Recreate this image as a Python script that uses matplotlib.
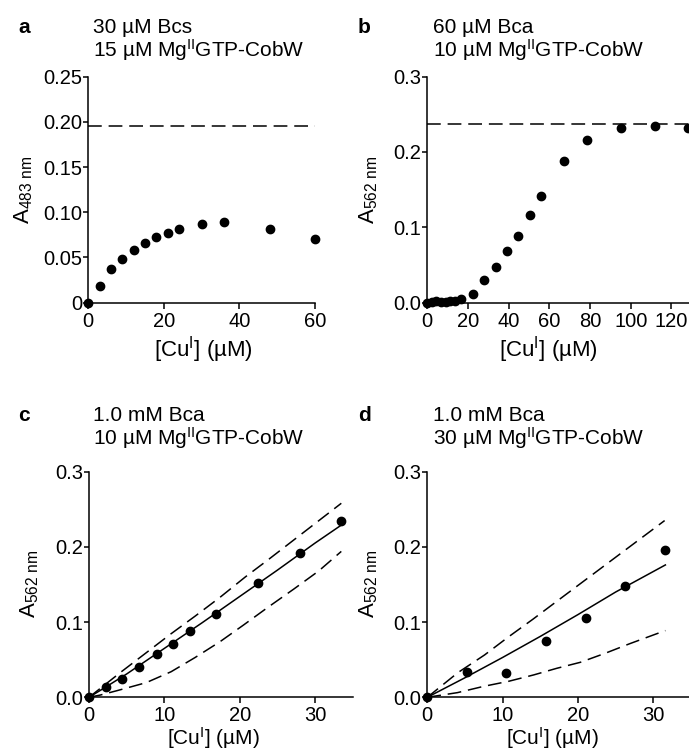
import numpy as np
import matplotlib
matplotlib.use("Agg")
import matplotlib.pyplot as plt

plt.rcParams['font.family'] = ['Liberation Sans', 'DejaVu Sans']
plt.rcParams['mathtext.fontset'] = 'custom'
plt.rcParams['mathtext.rm'] = 'Liberation Sans'
plt.rcParams['mathtext.it'] = 'Liberation Sans:italic'
plt.rcParams['mathtext.bf'] = 'Liberation Sans:bold'

W, H = 689, 753

# panel a: 30 uM Bcs, 15 uM CobW
a_cu = [0, 3, 6, 9, 12, 15, 18, 21, 24, 30, 36, 48, 60]
a_abs = [0.0, 0.0185, 0.0367, 0.048, 0.0585, 0.066, 0.072, 0.077, 0.081,
         0.087, 0.089, 0.081, 0.070]
a_limit = 0.195

# panel b: 60 uM Bca, 10 uM CobW
b_cu = [0, 2.2, 4.5, 6.7, 9.0, 11.2, 13.4, 16.8, 22.4, 28.0, 33.6, 39.2,
        44.8, 50.4, 56.0, 67.2, 78.4, 95.2, 112.0, 128.0]
b_abs = [0.0, 0.001, 0.002, 0.001, 0.001, 0.002, 0.002, 0.0044, 0.0116,
         0.030, 0.047, 0.069, 0.088, 0.116, 0.142, 0.188, 0.216, 0.232,
         0.234, 0.2325]
b_limit = 0.237

# panel c: 1.0 mM Bca, 10 uM CobW
c_cu = [0, 2.3, 4.4, 6.7, 9.0, 11.2, 13.4, 16.8, 22.4, 28.0, 33.5]
c_abs = [0.0, 0.0133, 0.0244, 0.040, 0.058, 0.071, 0.088, 0.111, 0.152,
         0.192, 0.234]
c_fit_x = [0, 2.2, 5, 10, 15, 20, 25, 30, 33.5]
c_fit = [0.0, 0.0135, 0.031, 0.065, 0.099, 0.134, 0.169, 0.205, 0.229]
c_up_x = [0, 4.3, 7.5, 10.8, 14.1, 17.4, 20.75, 23.8, 33.5]
c_up = [0.0, 0.034, 0.0585, 0.0838, 0.108, 0.133, 0.160, 0.183, 0.258]
c_lo_x = [0, 1.5, 3.75, 7.6, 10.9, 14.1, 17.4, 20.5, 23.8, 27.2, 30.5,
          33.5]
c_lo = [0.0, 0.003, 0.0089, 0.0195, 0.034, 0.053, 0.074, 0.096, 0.120,
        0.144, 0.168, 0.194]

# panel d: 1.0 mM Bca, 30 uM CobW
d_cu = [0, 5.3, 10.5, 15.8, 21.0, 26.2, 31.5]
d_abs = [0.0, 0.034, 0.032, 0.075, 0.105, 0.148, 0.196]
d_fit_x = [0, 5, 10, 15, 20, 25, 31.6]
d_fit = [0.0, 0.026, 0.053, 0.081, 0.110, 0.140, 0.176]
d_up_x = [0, 4.06, 7.6, 10.7, 14.0, 17.3, 20.5, 31.5]
d_up = [0.0, 0.0328, 0.0563, 0.0798, 0.1037, 0.1285, 0.1525, 0.235]
d_lo_x = [0, 4.0, 7.5, 10.8, 14.1, 17.2, 20.3, 23.6, 26.9, 30.5, 31.6]
d_lo = [0.0, 0.0062, 0.0146, 0.0213, 0.0297, 0.0386, 0.0465, 0.0585,
        0.0714, 0.0847, 0.0887]

fs_tick = 14.5
fs_title = 15
fs_lab = 16
dash = (9, 4.5)


def px_axes(left, top, right, bottom):
    return fig.add_axes([left / W, 1 - bottom / H, (right - left) / W,
                         (bottom - top) / H])


def style(ax, xlim, ylim, xticks, yticks, yfmt, xpad=2.5, xlab_fs=fs_lab):
    ax.set_xlim(*xlim)
    ax.set_ylim(*ylim)
    ax.spines['top'].set_visible(False)
    ax.spines['right'].set_visible(False)
    for s in ('left', 'bottom'):
        ax.spines[s].set_linewidth(1.1)
    ax.set_xticks(xticks)
    ax.set_yticks(yticks)
    ax.set_yticklabels(yfmt)
    ax.tick_params(axis='y', direction='out', length=3.5, width=1.1,
                   pad=1, labelsize=fs_tick)
    ax.tick_params(axis='x', direction='out', length=4, width=1.1,
                   pad=xpad, labelsize=fs_tick)
    ax.set_xlabel(r'[Cu$^{\mathrm{I}}$] (µM)', fontsize=xlab_fs)


def dots(ax, x, y):
    ax.plot(x, y, 'o', color='black', ms=6, clip_on=False, zorder=5)


def label_panel(letter, x, y, line1, line2):
    fig.text(x / W, 1 - y / H, letter, fontsize=fs_title, fontweight='bold',
             va='baseline')
    fig.text((x + 75) / W, 1 - y / H, line1, fontsize=fs_title,
             va='baseline')
    fig.text((x + 75) / W, 1 - (y + 24) / H, line2, fontsize=fs_title,
             va='baseline')


fig = plt.figure(figsize=(W / 100, H / 100), dpi=100)

# a
ax = px_axes(88.3, 76.7, 315, 302.5)
style(ax, (0, 60), (0, 0.25), [0, 20, 40, 60],
      [0, 0.05, 0.10, 0.15, 0.20, 0.25],
      ['0', '0.05', '0.10', '0.15', '0.20', '0.25'])
ax.plot([0, 60], [a_limit, a_limit], color='black', lw=1.1, dashes=dash)
dots(ax, a_cu, a_abs)
ax.set_ylabel(r'A$_{\mathrm{483\ nm}}$', fontsize=fs_lab)
ax.yaxis.set_label_coords(35 / W, 1 - 190 / H, transform=fig.transFigure)
ax.xaxis.set_label_coords(0.506, -0.14)

# b
ax = px_axes(427.3, 76.7, 702, 302.5)
style(ax, (0, 135), (0, 0.3), [0, 20, 40, 60, 80, 100, 120],
      [0, 0.1, 0.2, 0.3], ['0.0', '0.1', '0.2', '0.3'])
ax.plot([0, 135], [b_limit, b_limit], color='black', lw=1.1, dashes=dash)
dots(ax, b_cu, b_abs)
ax.set_ylabel(r'A$_{\mathrm{562\ nm}}$', fontsize=fs_lab)
ax.yaxis.set_label_coords(380 / W, 1 - 190 / H, transform=fig.transFigure)
ax.xaxis.set_label_coords(0.44, -0.14)

# c
ax = px_axes(89, 471.7, 352.6, 697.3)
style(ax, (0, 35), (0, 0.3), [0, 10, 20, 30],
      [0, 0.1, 0.2, 0.3], ['0.0', '0.1', '0.2', '0.3'],
      xpad=2, xlab_fs=15)
ax.plot(c_up_x, c_up, color='black', lw=1.1, dashes=dash)
ax.plot(c_lo_x, c_lo, color='black', lw=1.1, dashes=dash)
ax.plot(c_fit_x, c_fit, color='black', lw=1.1)
dots(ax, c_cu, c_abs)
ax.set_ylabel(r'A$_{\mathrm{562\ nm}}$', fontsize=fs_lab)
ax.yaxis.set_label_coords(41 / W, 1 - 584 / H, transform=fig.transFigure)
ax.xaxis.set_label_coords(0.473, -0.125)

# d
ax = px_axes(427.3, 471.7, 691, 697.3)
style(ax, (0, 35), (0, 0.3), [0, 10, 20, 30],
      [0, 0.1, 0.2, 0.3], ['0.0', '0.1', '0.2', '0.3'],
      xpad=2, xlab_fs=15)
ax.plot(d_up_x, d_up, color='black', lw=1.1, dashes=dash)
ax.plot(d_lo_x, d_lo, color='black', lw=1.1, dashes=dash)
ax.plot(d_fit_x, d_fit, color='black', lw=1.1)
dots(ax, d_cu, d_abs)
ax.set_ylabel(r'A$_{\mathrm{562\ nm}}$', fontsize=fs_lab)
ax.yaxis.set_label_coords(380 / W, 1 - 584 / H, transform=fig.transFigure)
ax.xaxis.set_label_coords(0.475, -0.125)

mg = r'Mg$^{\mathrm{II}}$GTP-CobW'
label_panel('a', 18, 33, '30 µM Bcs', '15 µM ' + mg)
label_panel('b', 358, 33, '60 µM Bca', '10 µM ' + mg)
label_panel('c', 18, 421, '1.0 mM Bca', '10 µM ' + mg)
label_panel('d', 358, 421, '1.0 mM Bca', '30 µM ' + mg)

fig.savefig('out.png', dpi=100)
